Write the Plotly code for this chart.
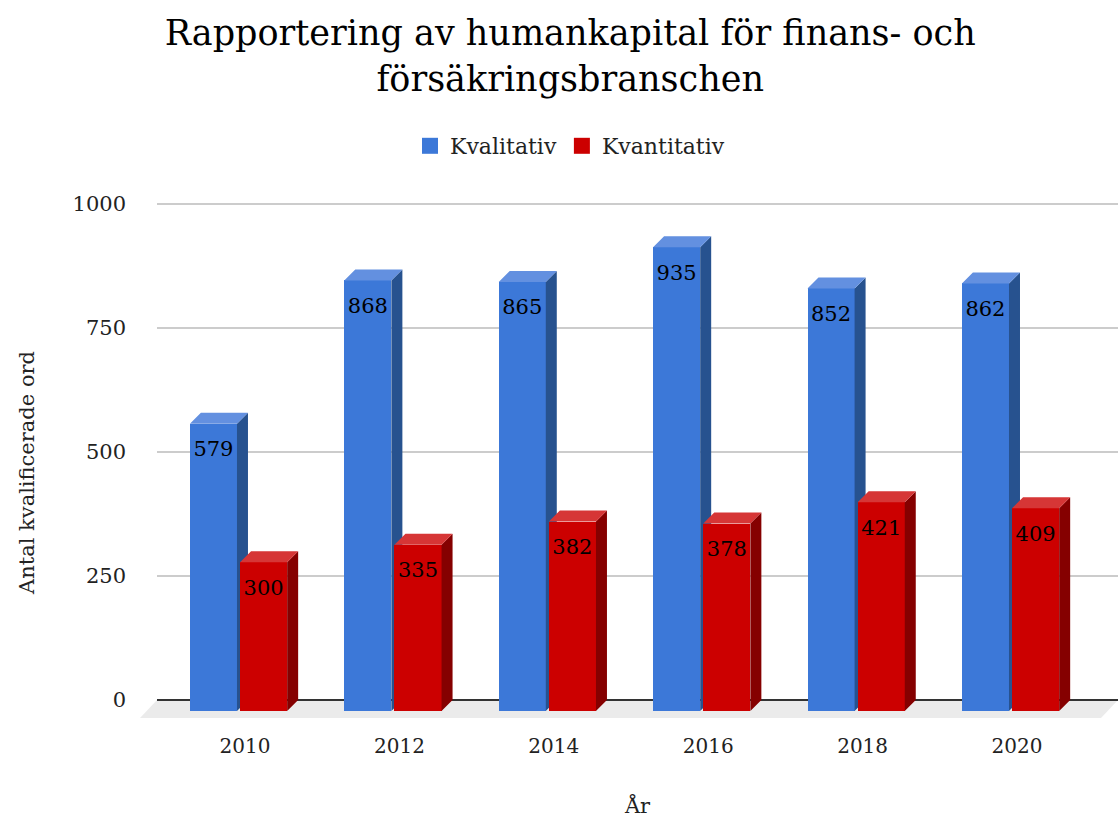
import numpy as np
import plotly.graph_objects as go

# ---- data ----
years = ["2010", "2012", "2014", "2016", "2018", "2020"]
kvalitativ = [579, 868, 865, 935, 852, 862]
kvantitativ = [300, 335, 382, 378, 421, 409]
y_ticks = [0, 250, 500, 750, 1000]

# ---- styling / geometry ----
W, H = 1118, 818
PLOT_L, PLOT_R, PLOT_T, PLOT_B = 157, 1118, 190, 720
X_RANGE = [-0.57, 5.654]
Y_RANGE = [-40.3, 1028.2]
BAR_W = 0.305          # front face width (category units)
PAIR_GAP = 0.02
FRONT_SHIFT = -0.042   # front faces sit slightly left of the category centre
DX = 0.0712            # extrusion depth, x (category units)
DY = 22.2              # extrusion depth, y (value units)
LABEL_DROP = 55        # label centre below the front top (value units)

SERIF = "DejaVu Serif, Liberation Serif, serif"

series = [
    dict(name="Kvalitativ", values=kvalitativ, front="#3c78d8", top="#6390e0",
         side="#27528f", offset=FRONT_SHIFT - (BAR_W + PAIR_GAP) / 2, axes=("x", "y")),
    dict(name="Kvantitativ", values=kvantitativ, front="#cc0000", top="#d63636",
         side="#850000", offset=FRONT_SHIFT + (BAR_W + PAIR_GAP) / 2, axes=("x2", "y2")),
]

idx = np.arange(len(years))


def paper_x(px):
    return (px - PLOT_L) / (PLOT_R - PLOT_L)


def paper_y(py):
    return (PLOT_B - py) / (PLOT_B - PLOT_T)


fig = go.Figure()

for s in series:
    xa, ya = s["axes"]
    centers = idx + s["offset"]
    vals = np.array(s["values"], dtype=float)

    # front faces
    fig.add_trace(go.Bar(
        x=centers, y=vals, base=-DY, width=BAR_W,
        marker=dict(color=s["front"], line=dict(width=0)),
        showlegend=False, hoverinfo="skip", xaxis=xa, yaxis=ya,
    ))

    # side and top faces of the extrusion
    side_x, side_y, top_x, top_y = [], [], [], []
    for c, v in zip(centers, vals):
        x0, x1 = c - BAR_W / 2, c + BAR_W / 2
        side_x += [x1, x1 + DX, x1 + DX, x1, x1, None]
        side_y += [-DY, 0, v, v - DY, -DY, None]
        top_x += [x0, x0 + DX, x1 + DX, x1, x0, None]
        top_y += [v - DY, v, v, v - DY, v - DY, None]
    fig.add_trace(go.Scatter(
        x=side_x, y=side_y, fill="toself", fillcolor=s["side"], mode="lines",
        line=dict(width=0), showlegend=False, hoverinfo="skip", xaxis=xa, yaxis=ya,
    ))
    fig.add_trace(go.Scatter(
        x=top_x, y=top_y, fill="toself", fillcolor=s["top"], mode="lines",
        line=dict(width=0), showlegend=False, hoverinfo="skip", xaxis=xa, yaxis=ya,
    ))

    # value labels inside the front face
    fig.add_trace(go.Scatter(
        x=centers, y=vals - DY - LABEL_DROP, mode="text",
        text=[str(int(v)) for v in vals], textposition="middle center",
        textfont=dict(family=SERIF, size=21, color="#000000"),
        showlegend=False, hoverinfo="skip", xaxis=xa, yaxis=ya,
    ))

    # legend entry
    fig.add_trace(go.Scatter(
        x=[None], y=[None], mode="markers", name=s["name"],
        marker=dict(symbol="square", size=22, color=s["front"]),
        xaxis=xa, yaxis=ya,
    ))

# floor under the bars
fx0, fx1 = paper_x(157), paper_x(1118)
fy0, fy1 = paper_y(700), paper_y(718)
fx0b, fx1b = paper_x(140), paper_x(1101)
fig.add_shape(
    type="path", xref="paper", yref="paper", layer="below",
    path=f"M {fx0},{fy0} L {fx1},{fy0} L {fx1b},{fy1} L {fx0b},{fy1} Z",
    fillcolor="#ebebeb", line=dict(width=0),
)

# vertical axis title
fig.add_annotation(
    text="Antal kvalificerade ord", textangle=-90,
    xref="paper", yref="paper", x=paper_x(27), y=paper_y(473),
    xanchor="center", yanchor="middle", showarrow=False,
    font=dict(family=SERIF, size=21, color="#222222"),
)

fig.update_layout(
    width=W, height=H,
    margin=dict(l=PLOT_L, r=W - PLOT_R, t=PLOT_T, b=H - PLOT_B, pad=0),
    paper_bgcolor="#ffffff", plot_bgcolor="rgba(0,0,0,0)",
    font=dict(family=SERIF, color="#222222"),
    title=dict(
        text="Rapportering av humankapital för finans- och<br>försäkringsbranschen",
        x=0.51, xanchor="center", y=1 - 45 / H, yanchor="middle",
        font=dict(family=SERIF, size=35, color="#000000"),
    ),
    legend=dict(
        orientation="h", x=paper_x(570), xanchor="center",
        y=paper_y(146), yanchor="middle",
        font=dict(family=SERIF, size=22, color="#222222"),
        bgcolor="rgba(0,0,0,0)", itemsizing="trace",
    ),
    bargap=0, barmode="overlay",
    xaxis=dict(
        range=X_RANGE, tickvals=idx.tolist(), ticktext=years,
        showgrid=False, zeroline=False, showline=False, ticks="",
        ticklabelstandoff=12,
        tickfont=dict(family=SERIF, size=20, color="#222222"),
        title=dict(text="År", font=dict(family=SERIF, size=21, color="#222222"), standoff=42),
        fixedrange=True,
    ),
    yaxis=dict(
        range=Y_RANGE, tickvals=y_ticks, ticktext=[str(t) for t in y_ticks],
        showgrid=True, gridcolor="#cccccc", gridwidth=1.5,
        zeroline=True, zerolinecolor="#333333", zerolinewidth=1.5,
        showline=False, ticks="", ticklabelstandoff=30,
        tickfont=dict(family=SERIF, size=21, color="#222222"),
        fixedrange=True,
    ),
    xaxis2=dict(range=X_RANGE, overlaying="x", anchor="y2", visible=False, fixedrange=True),
    yaxis2=dict(range=Y_RANGE, overlaying="y", anchor="x2", visible=False, fixedrange=True),
)

fig.write_html("out.html")
